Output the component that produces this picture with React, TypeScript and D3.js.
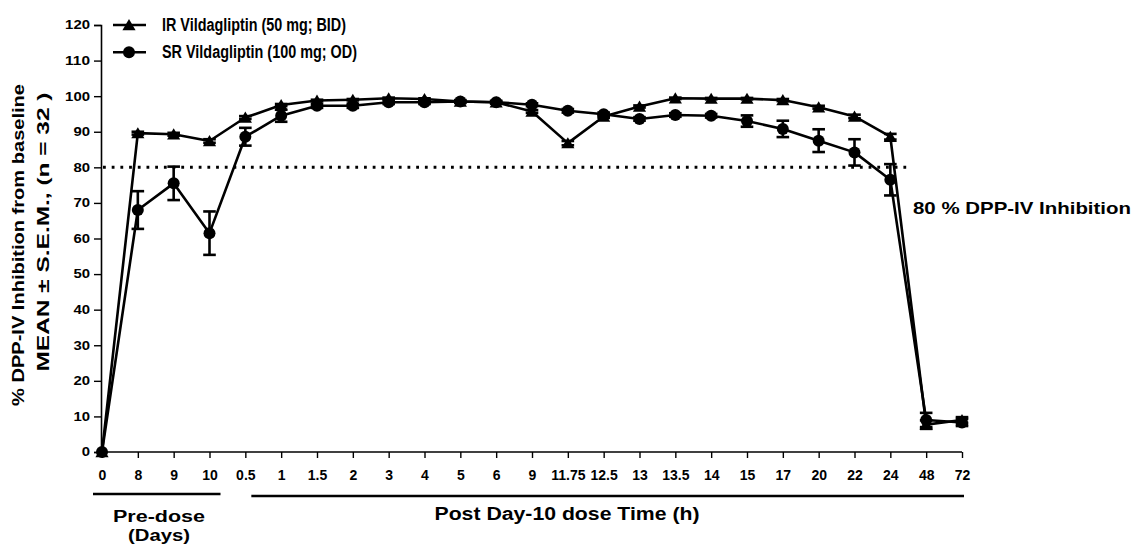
import React, { useRef, useEffect } from 'react';
import * as d3 from 'd3';

// time points (pre-dose days, then hours after day-10 dose)
const timeLabels = ['0', '8', '9', '10', '0.5', '1', '1.5', '2', '3', '4', '5', '6', '9', '11.75', '12.5', '13', '13.5', '14', '15', '17', '20', '22', '24', '48', '72'];

const irMean = [0, 89.6, 89.3, 87.4, 94.0, 97.5, 98.8, 99.0, 99.4, 99.2, 98.5, 98.3, 95.7, 86.8, 94.3, 97.1, 99.4, 99.3, 99.3, 98.9, 96.9, 94.3, 88.6, 7.7, 9.0];
const irSem = [0, 0.4, 0.4, 0.5, 0.4, 0.3, 0.2, 0.2, 0.2, 0.2, 0.2, 0.2, 0.4, 0.6, 0.4, 0.3, 0.2, 0.2, 0.2, 0.3, 0.4, 0.5, 0.8, 1.2, 0.8];

const srMean = [0, 68.0, 75.5, 61.5, 88.6, 94.5, 97.3, 97.3, 98.3, 98.3, 98.5, 98.3, 97.6, 95.9, 94.9, 93.6, 94.7, 94.5, 93.0, 90.8, 87.5, 84.2, 76.5, 9.0, 8.3];
const srSem = [0, 5.3, 4.7, 6.1, 2.5, 1.7, 0.6, 0.6, 0.5, 0.5, 0.4, 0.4, 0.4, 0.5, 0.5, 0.5, 0.5, 0.5, 1.6, 2.3, 3.2, 3.7, 4.4, 2.0, 1.0];

const yTicks = d3.range(0, 121, 10);
const threshold = 80;

const legendLabels = ['IR Vildagliptin (50 mg; BID)', 'SR Vildagliptin (100 mg; OD)'];

const FONT = '"Liberation Sans", Arial, Helvetica, sans-serif';

function DppChart() {
  const svgRef = useRef<SVGSVGElement>(null);

  useEffect(() => {
    const svg = d3.select(svgRef.current);
    svg.selectAll('*').remove();

    const idx = d3.range(timeLabels.length);
    const x = d3.scalePoint<number>().domain(idx).range([102, 962]);
    const y = d3.scaleLinear().domain([0, 120]).range([452, 25]);

    const g = svg.append('g').attr('font-family', FONT).attr('font-weight', 'bold');

    // y axis
    const yAxis = g.append('g')
      .attr('transform', 'translate(101,0)')
      .call(d3.axisLeft(y).tickValues(yTicks).tickSize(7).tickPadding(4).tickFormat(d3.format('d')));
    yAxis.select('.domain').attr('stroke-width', 1.6);
    yAxis.selectAll('.tick line').attr('stroke-width', 1.4);
    yAxis.selectAll('.tick text')
      .attr('font-size', 12)
      .attr('fill', '#000')
      .attr('font-family', FONT)
      .attr('textLength', (d: any) => String(d).length * 8.3)
      .attr('lengthAdjust', 'spacingAndGlyphs');

    // x axis
    const xAxis = g.append('g')
      .attr('transform', 'translate(0,452)')
      .call(d3.axisBottom(x).tickSize(6).tickPadding(12).tickSizeOuter(0).tickFormat((i: number) => timeLabels[i]));
    xAxis.select('.domain').attr('stroke-width', 1.6).attr('d', `M101,0H${x(timeLabels.length - 1)}`);
    xAxis.selectAll('.tick line').attr('stroke-width', 1.4);
    xAxis.selectAll('.tick text')
      .attr('font-size', 14)
      .attr('fill', '#000')
      .attr('font-family', FONT);

    // 80% threshold
    g.append('line')
      .attr('x1', 103).attr('x2', 912)
      .attr('y1', y(threshold)).attr('y2', y(threshold))
      .attr('stroke', '#000').attr('stroke-width', 3)
      .attr('stroke-dasharray', '2.8 5.9');

    g.append('text')
      .attr('x', 913).attr('y', y(threshold) + 47)
      .attr('font-size', 17)
      .attr('textLength', 218).attr('lengthAdjust', 'spacingAndGlyphs')
      .text('80 % DPP-IV Inhibition');

    const line = d3.line<number>()
      .x((_, i) => x(i) as number)
      .y(d => y(d));

    const triPath = 'M0,-6L6.6,5.2L-6.6,5.2Z';

    const drawSeries = (mean: number[], sem: number[], kind: 'tri' | 'dot') => {
      g.append('path')
        .datum(mean)
        .attr('fill', 'none')
        .attr('stroke', '#000')
        .attr('stroke-width', 2.6)
        .attr('stroke-linejoin', 'round')
        .attr('d', line);

      const eb = g.append('g').attr('stroke', '#000').attr('stroke-width', 2.6);
      mean.forEach((m, i) => {
        if (sem[i] <= 0) return;
        const cx = x(i) as number;
        const y0 = y(m - sem[i]);
        const y1 = y(m + sem[i]);
        eb.append('line').attr('x1', cx).attr('x2', cx).attr('y1', y0).attr('y2', y1);
        eb.append('line').attr('x1', cx - 6.3).attr('x2', cx + 6.3).attr('y1', y0).attr('y2', y0);
        eb.append('line').attr('x1', cx - 6.3).attr('x2', cx + 6.3).attr('y1', y1).attr('y2', y1);
      });

      if (kind === 'dot') {
        g.append('g').selectAll('circle')
          .data(mean)
          .enter().append('circle')
          .attr('cx', (_, i) => x(i) as number)
          .attr('cy', d => y(d))
          .attr('r', 6)
          .attr('fill', '#000');
      } else {
        g.append('g').selectAll('path')
          .data(mean)
          .enter().append('path')
          .attr('d', triPath)
          .attr('transform', (d, i) => `translate(${x(i)},${y(d)})`)
          .attr('fill', '#000');
      }
    };

    drawSeries(irMean, irSem, 'tri');
    drawSeries(srMean, srSem, 'dot');

    // legend
    const leg = g.append('g');
    legendLabels.forEach((label, i) => {
      const ly = 25 + i * 27.3;
      leg.append('line')
        .attr('x1', 113).attr('x2', 146).attr('y1', ly).attr('y2', ly)
        .attr('stroke', '#000').attr('stroke-width', 2.6);
      if (i === 0) {
        leg.append('path').attr('d', triPath).attr('transform', `translate(129,${ly})`).attr('fill', '#000');
      } else {
        leg.append('circle').attr('cx', 129).attr('cy', ly).attr('r', 6).attr('fill', '#000');
      }
      leg.append('text')
        .attr('x', 162).attr('y', ly + 5.5)
        .attr('font-size', 18)
        .attr('textLength', i === 0 ? 184 : 195)
        .attr('lengthAdjust', 'spacingAndGlyphs')
        .text(label);
    });

    // y axis title
    const yt = g.append('g').attr('font-size', 16).attr('text-anchor', 'middle');
    yt.append('text')
      .attr('transform', 'translate(23.5,245) rotate(-90)')
      .attr('textLength', 322).attr('lengthAdjust', 'spacingAndGlyphs')
      .text('% DPP-IV Inhibition from baseline');
    yt.append('text')
      .attr('transform', 'translate(49,232) rotate(-90)')
      .attr('textLength', 279).attr('lengthAdjust', 'spacingAndGlyphs')
      .text('MEAN ± S.E.M., (n = 32 )');

    // phase brackets
    const last = timeLabels.length - 1;
    g.append('line')
      .attr('x1', (x(0) as number) - 9).attr('x2', (x(3) as number) + 11)
      .attr('y1', 494).attr('y2', 494)
      .attr('stroke', '#000').attr('stroke-width', 2.6);
    g.append('line')
      .attr('x1', (x(4) as number) + 6).attr('x2', (x(last) as number) + 2)
      .attr('y1', 496).attr('y2', 496)
      .attr('stroke', '#000').attr('stroke-width', 2.6);

    const pre = g.append('g').attr('text-anchor', 'middle').attr('font-size', 16);
    pre.append('text').attr('x', 159).attr('y', 521.5)
      .attr('textLength', 92).attr('lengthAdjust', 'spacingAndGlyphs').text('Pre-dose');
    pre.append('text').attr('x', 159).attr('y', 541)
      .attr('textLength', 62).attr('lengthAdjust', 'spacingAndGlyphs').text('(Days)');

    g.append('text')
      .attr('x', 567).attr('y', 520)
      .attr('text-anchor', 'middle')
      .attr('font-size', 18)
      .attr('textLength', 265).attr('lengthAdjust', 'spacingAndGlyphs')
      .text('Post Day-10 dose Time (h)');
  }, []);

  return (
    <svg
      ref={svgRef}
      width={1137}
      height={545}
      style={{ position: 'absolute', left: 0, top: 0, background: '#fff' }}
    />
  );
}

export default function App() {
  return <DppChart />;
}
